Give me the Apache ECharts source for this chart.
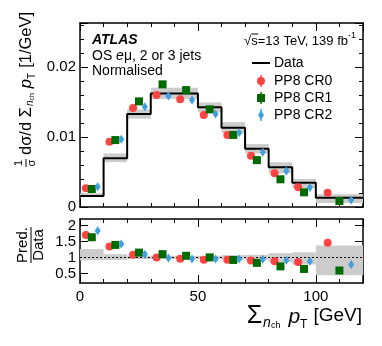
<!DOCTYPE html>
<html>
<head>
<meta charset="utf-8">
<script src="https://cdn.jsdelivr.net/npm/echarts@6/dist/echarts.min.js"></script>
<style>
  html, body { margin: 0; padding: 0; background: #fff; }
  #chart { width: 382px; height: 346px; }
</style>
</head>
<body>
<div id="chart"></div>
<script>
// bin edges [GeV]
const binEdges = [0, 10, 20, 30, 40, 50, 60, 70, 80, 90, 100, 120];
// normalised data, 1/GeV
const dataVals = [0.00157, 0.00696, 0.01329, 0.01624, 0.01624, 0.01424, 0.01133, 0.00833, 0.00567, 0.00347, 0.00133];
// relative data uncertainty (band edges, as fraction of data)
const bandLo = [0.91, 0.92, 0.95, 0.95, 0.95, 0.95, 0.93, 0.92, 0.85, 0.78, 0.44];
const bandHi = [1.26, 1.10, 1.05, 1.05, 1.05, 1.05, 1.07, 1.08, 1.13, 1.16, 1.37];
// predictions
const cr0 = [0.00267, 0.00933, 0.01415, 0.01600, 0.01539, 0.01314, 0.01029, 0.00733, 0.00481, 0.00281, 0.00205];
const cr1 = [0.00257, 0.00957, 0.01510, 0.01753, 0.01671, 0.01396, 0.01030, 0.00670, 0.00396, 0.00210, 0.00086];
const cr2 = [0.00290, 0.00967, 0.01433, 0.01586, 0.01529, 0.01329, 0.01062, 0.00781, 0.00514, 0.00280, 0.00100];
const cr2Err = [0.0003, 0.0004, 0.0004, 0.0004, 0.0004, 0.0004, 0.0003, 0.0003, 0.0003, 0.0003, 0.0003];
// Pred./Data
const ratio0 = [1.70, 1.34, 1.08, 1.00, 0.96, 0.93, 0.93, 0.90, 0.88, 0.86, 1.46];
const ratio1 = [1.63, 1.39, 1.15, 1.10, 1.05, 1.00, 0.92, 0.83, 0.72, 0.64, 0.59];
const ratio2 = [1.83, 1.42, 1.10, 0.98, 0.95, 0.95, 0.95, 0.94, 0.91, 0.88, 0.78];
const ratio2Err = [0.06, 0.05, 0.05, 0.04, 0.04, 0.04, 0.04, 0.04, 0.05, 0.06, 0.08];
const ratioTicks = [0.5, 1, 1.5, 2];

const FONT = '"Liberation Sans", Arial, Helvetica, sans-serif';
const RED = '#ff4242', GREEN = '#006a00', BLUE = '#3fa0dd', GREY = '#cccccc';

const nb = dataVals.length;
const lo = i => binEdges[i], hi = i => binEdges[i + 1];
const xAt = (i, f) => lo(i) + (hi(i) - lo(i)) * f;

// step line points
const stepPts = dataVals.map((v, i) => [lo(i), v]).concat([[binEdges[nb], dataVals[nb - 1]]]);
const topBand = dataVals.map((v, i) => [lo(i), hi(i), v * bandLo[i], v * bandHi[i]]);
const ratioBand = dataVals.map((v, i) => [lo(i), hi(i), bandLo[i], bandHi[i]]);

function renderBand(params, api) {
  const a = api.coord([api.value(0), api.value(3)]);
  const b = api.coord([api.value(1), api.value(2)]);
  return { type: 'rect', shape: { x: a[0], y: a[1], width: b[0] - a[0], height: b[1] - a[1] }, style: { fill: GREY } };
}
function renderErr(params, api) {
  const a = api.coord([api.value(0), api.value(1) - api.value(2)]);
  const b = api.coord([api.value(0), api.value(1) + api.value(2)]);
  return { type: 'line', shape: { x1: a[0], y1: a[1], x2: b[0], y2: b[1] }, style: { stroke: BLUE, lineWidth: 1.5 } };
}

// text helper: lays out pieces on one line
const mctx = document.createElement('canvas').getContext('2d');
function pieces(list, x0, y0, anchor) {
  let w = 0;
  const items = list.map(p => {
    const font = (p.st || '') + ' ' + p.size + 'px ' + FONT;
    mctx.font = font;
    const it = { p: p, font: font, x: w };
    w += mctx.measureText(p.t).width + (p.gap || 0);
    return it;
  });
  const start = anchor === 'right' ? x0 - w : anchor === 'center' ? x0 - w / 2 : x0;
  return items.map(it => ({
    type: 'text', x: start + it.x, y: y0 + (it.p.dy || 0),
    style: { text: it.p.t, font: it.font, fill: '#000', verticalAlign: 'middle' }
  }));
}

const grids = [
  { left: 80, top: 23, width: 283, height: 184 },
  { left: 80, top: 219, width: 283, height: 64 }
];

const lineStyle = { color: '#000', width: 1.5 };
function xAx(grid, pos, labels) {
  return {
    type: 'value', gridIndex: grid, position: pos, min: 0, max: 120, interval: 50,
    axisLine: { show: true, onZero: false, lineStyle: lineStyle },
    axisTick: { show: true, inside: true, length: 8, lineStyle: { color: '#000', width: 1 } },
    minorTick: { show: true, splitNumber: 5, length: 4, lineStyle: { color: '#000', width: 1 } },
    axisLabel: { show: labels, margin: 6, fontSize: 15, color: '#000', fontFamily: FONT, showMaxLabel: false },
    splitLine: { show: false }
  };
}
function yTop(pos, labels) {
  return {
    type: 'value', gridIndex: 0, position: pos, min: 0, max: 0.0263, interval: 0.01,
    axisLine: { show: true, onZero: false, lineStyle: lineStyle },
    axisTick: { show: true, inside: true, length: 8, lineStyle: { color: '#000', width: 1 } },
    minorTick: { show: true, splitNumber: 5, length: 4, lineStyle: { color: '#000', width: 1 } },
    axisLabel: { show: labels, margin: 4, fontSize: 15, color: '#000', fontFamily: FONT, showMaxLabel: false,
      formatter: v => v === 0 ? '0' : (+v.toFixed(3)).toString() },
    splitLine: { show: false }
  };
}
function yRatio(pos, labels) {
  return {
    type: 'value', gridIndex: 1, position: pos, min: 0.2, max: 2.2,
    axisLine: { show: true, onZero: false, lineStyle: lineStyle },
    axisTick: { show: true, inside: true, length: 8, customValues: ratioTicks, lineStyle: { color: '#000', width: 1 } },
    axisLabel: { show: labels, margin: 4, fontSize: 15, color: '#000', fontFamily: FONT, customValues: ratioTicks },
    splitLine: { show: false }
  };
}

const sym = (color, symbol, size) => ({ symbol: symbol, symbolSize: size, itemStyle: { color: color, opacity: 1 }, z: 5 });

const series = [
  { type: 'custom', xAxisIndex: 0, yAxisIndex: 0, renderItem: renderBand, data: topBand, z: 1, silent: true },
  { type: 'line', name: 'Data', xAxisIndex: 0, yAxisIndex: 0, data: stepPts, step: 'end', showSymbol: false,
    lineStyle: { color: '#000', width: 2 }, z: 3, silent: true },
  Object.assign({ type: 'scatter', name: 'PP8 CR0', xAxisIndex: 0, yAxisIndex: 0,
    data: cr0.map((v, i) => [xAt(i, 0.25), v]) }, sym(RED, 'circle', 8)),
  Object.assign({ type: 'scatter', name: 'PP8 CR1', xAxisIndex: 0, yAxisIndex: 0,
    data: cr1.map((v, i) => [xAt(i, 0.5), v]) }, sym(GREEN, 'rect', 8)),
  { type: 'custom', xAxisIndex: 0, yAxisIndex: 0, renderItem: renderErr, z: 4,
    data: cr2.map((v, i) => [xAt(i, 0.75), v, cr2Err[i]]) },
  Object.assign({ type: 'scatter', name: 'PP8 CR2', xAxisIndex: 0, yAxisIndex: 0,
    data: cr2.map((v, i) => [xAt(i, 0.75), v]) }, sym(BLUE, 'diamond', [6, 9])),

  { type: 'custom', xAxisIndex: 2, yAxisIndex: 2, renderItem: renderBand, data: ratioBand, z: 1, silent: true,
    clip: true },
  Object.assign({ type: 'scatter', xAxisIndex: 2, yAxisIndex: 2,
    data: ratio0.map((v, i) => [xAt(i, 0.25), v]),
    markLine: { silent: true, symbol: 'none', label: { show: false }, animation: false,
      lineStyle: { color: '#000', type: [2, 2], width: 1 }, data: [{ yAxis: 1 }] } }, sym(RED, 'circle', 8)),
  Object.assign({ type: 'scatter', xAxisIndex: 2, yAxisIndex: 2,
    data: ratio1.map((v, i) => [xAt(i, 0.5), v]) }, sym(GREEN, 'rect', 8)),
  { type: 'custom', xAxisIndex: 2, yAxisIndex: 2, renderItem: renderErr, z: 4,
    data: ratio2.map((v, i) => [xAt(i, 0.75), v, ratio2Err[i]]) },
  Object.assign({ type: 'scatter', xAxisIndex: 2, yAxisIndex: 2,
    data: ratio2.map((v, i) => [xAt(i, 0.75), v]) }, sym(BLUE, 'diamond', [6, 9]))
];

// legend (drawn as graphic)
const legY = [63, 81, 98, 115];
const legX = 261, legTx = 274;
const legend = [
  { type: 'line', shape: { x1: 252, y1: legY[0], x2: 270, y2: legY[0] }, style: { stroke: '#000', lineWidth: 2 } },
  { type: 'line', shape: { x1: legX, y1: legY[1] - 6, x2: legX, y2: legY[1] + 6 }, style: { stroke: RED, lineWidth: 1.5 } },
  { type: 'circle', shape: { cx: legX, cy: legY[1], r: 4 }, style: { fill: RED } },
  { type: 'line', shape: { x1: legX, y1: legY[2] - 6, x2: legX, y2: legY[2] + 6 }, style: { stroke: GREEN, lineWidth: 1.5 } },
  { type: 'rect', shape: { x: legX - 4, y: legY[2] - 4, width: 8, height: 8 }, style: { fill: GREEN } },
  { type: 'line', shape: { x1: legX, y1: legY[3] - 6, x2: legX, y2: legY[3] + 6 }, style: { stroke: BLUE, lineWidth: 1.5 } },
  { type: 'polygon', shape: { points: [[legX, legY[3] - 4.5], [legX + 3, legY[3]], [legX, legY[3] + 4.5], [legX - 3, legY[3]]] }, style: { fill: BLUE } }
].concat(
  ['Data', 'PP8 CR0', 'PP8 CR1', 'PP8 CR2'].map((t, i) => ({
    type: 'text', x: legTx, y: legY[i], style: { text: t, font: '14px ' + FONT, fill: '#000', verticalAlign: 'middle' }
  }))
);

// labels
const energy = pieces([{ t: '√', size: 13 }, { t: 's=13 TeV, 139 fb', size: 13 }, { t: '-1', size: 9, dy: -5 }], 356, 41, 'right');
const sBar = { type: 'line', shape: { x1: energy[1].x, y1: 34, x2: energy[1].x + 7, y2: 34 }, style: { stroke: '#000', lineWidth: 1 } };
const labels = [].concat(
  pieces([{ t: 'ATLAS', size: 14, st: 'italic bold' }], 92, 40),
  pieces([{ t: 'OS ', size: 14 }, { t: 'e', size: 14, st: 'italic' }, { t: 'μ, 2 or 3 jets', size: 14 }], 92, 56),
  pieces([{ t: 'Normalised', size: 14 }], 92, 71),
  energy, [sBar],
  pieces([{ t: 'Σ', size: 25, gap: 1 }, { t: 'n', size: 14, st: 'italic', dy: 7 }, { t: 'ch', size: 9, dy: 10, gap: 8 },
    { t: 'p', size: 21, st: 'italic', dy: 1 }, { t: 'T', size: 12, dy: 9, gap: 6 }, { t: '[GeV]', size: 19 }], 362, 316, 'right')
);

// rotated y titles
const yTitle = {
  type: 'group', x: 26, y: 167, rotation: Math.PI / 2,
  children: [
    { type: 'text', x: 4, y: -7, style: { text: '1', font: '11px ' + FONT, fill: '#000', align: 'center', verticalAlign: 'middle' } },
    { type: 'line', shape: { x1: 0, y1: 0, x2: 8, y2: 0 }, style: { stroke: '#000', lineWidth: 1 } },
    { type: 'text', x: 4, y: 6, style: { text: 'σ', font: '11px ' + FONT, fill: '#000', align: 'center', verticalAlign: 'middle' } }
  ].concat(pieces([
    { t: 'dσ/d ', size: 16.5 }, { t: 'Σ', size: 16.5, gap: 1 }, { t: 'n', size: 10, st: 'italic', dy: 4 },
    { t: 'ch', size: 7, dy: 6, gap: 5 }, { t: 'p', size: 16.5, st: 'italic' }, { t: 'T', size: 10, dy: 6, gap: 5 },
    { t: '[1/GeV]', size: 16.5 }
  ], 12, 0))
};
const rTitle = {
  type: 'group', x: 31, y: 245, rotation: Math.PI / 2,
  children: [
    { type: 'text', x: 0, y: -8, style: { text: 'Pred.', font: '15px ' + FONT, fill: '#000', align: 'center', verticalAlign: 'middle' } },
    { type: 'line', shape: { x1: -18, y1: 0, x2: 18, y2: 0 }, style: { stroke: '#000', lineWidth: 1 } },
    { type: 'text', x: 0, y: 8, style: { text: 'Data', font: '15px ' + FONT, fill: '#000', align: 'center', verticalAlign: 'middle' } }
  ]
};

const chart = echarts.init(document.getElementById('chart'), null, { renderer: 'canvas' });
chart.setOption({
  animation: false,
  backgroundColor: '#fff',
  textStyle: { fontFamily: FONT },
  grid: grids,
  xAxis: [xAx(0, 'bottom', false), xAx(0, 'top', false), xAx(1, 'bottom', true), xAx(1, 'top', false)],
  yAxis: [yTop('left', true), yTop('right', false), yRatio('left', true), yRatio('right', false)],
  series: series,
  graphic: legend.concat(labels, [yTitle, rTitle])
});
</script>
</body>
</html>
